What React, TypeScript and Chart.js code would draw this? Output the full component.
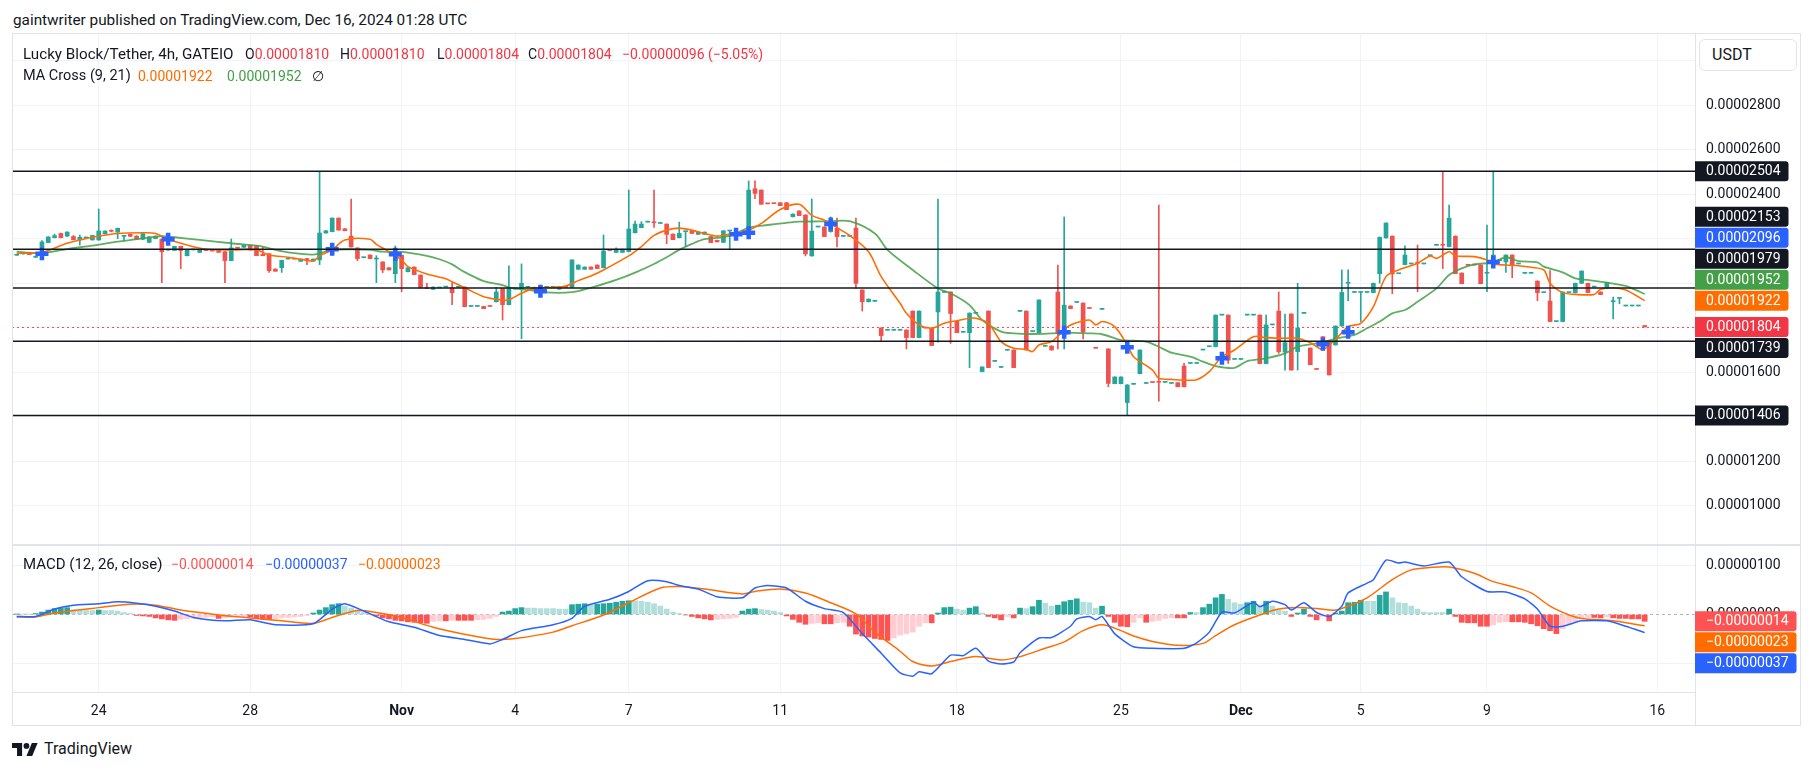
import React, { useEffect, useRef } from 'react';
import { Chart, registerables } from 'chart.js';

Chart.register(...registerables);

// Prices and indicator values are stored in units of 1e-8 USDT (2400 = 0.00002400)
const UNIT = 1e8;

const TICK_IDX = [13, 37, 61, 79, 97, 121, 149, 175, 194, 213, 233, 260];
const TICK_LABELS = ['24', '28', 'Nov', '4', '7', '11', '18', '25', 'Dec', '5', '9', '16'];
const MONTH_LABELS = ['Nov', 'Dec'];
const PRICE_TICKS = [1000, 1200, 1400, 1600, 1800, 2000, 2200, 2400, 2600, 2800, 3000];
const MACD_TICKS = [-100, 0, 100];

// [open, high, low, close] per 4h bar
const CANDLES: number[][] = [
  [2126, 2129, 2126, 2128], [2132, 2134, 2131, 2133], [2139, 2140, 2128, 2129], [2117, 2118, 2116, 2117],
  [2162, 2192, 2160, 2186], [2183, 2210, 2182, 2208], [2205, 2221, 2204, 2214], [2224, 2226, 2204, 2205],
  [2212, 2232, 2210, 2230], [2210, 2215, 2195, 2196], [2195, 2217, 2172, 2207], [2204, 2205, 2203, 2205],
  [2195, 2215, 2194, 2215], [2195, 2334, 2193, 2235], [2223, 2236, 2222, 2235], [2235, 2240, 2232, 2234],
  [2230, 2248, 2201, 2247], [2211, 2212, 2190, 2212], [2220, 2222, 2210, 2211], [2212, 2214, 2197, 2198],
  [2198, 2225, 2196, 2223], [2184, 2210, 2183, 2208], [2201, 2213, 2200, 2212], [2198, 2199, 2003, 2142],
  [2149, 2150, 2148, 2150], [2148, 2167, 2147, 2166], [2166, 2167, 2066, 2147], [2124, 2152, 2123, 2151],
  [2150, 2151, 2150, 2151], [2139, 2150, 2138, 2150], [2148, 2148, 2147, 2147], [2150, 2151, 2145, 2145],
  [2150, 2151, 2139, 2139], [2142, 2143, 2003, 2102], [2102, 2199, 2101, 2159], [2159, 2159, 2158, 2158],
  [2162, 2172, 2161, 2171], [2171, 2172, 2150, 2150], [2168, 2169, 2124, 2124], [2130, 2162, 2124, 2124],
  [2133, 2134, 2049, 2057], [2064, 2065, 2054, 2054], [2070, 2104, 2049, 2103], [2109, 2110, 2109, 2110],
  [2110, 2110, 2109, 2109], [2099, 2109, 2098, 2109], [2111, 2112, 2084, 2103], [2100, 2109, 2100, 2109],
  [2105, 2503, 2084, 2226], [2226, 2237, 2225, 2236], [2232, 2294, 2231, 2293], [2293, 2294, 2239, 2239],
  [2245, 2246, 2236, 2236], [2212, 2379, 2163, 2163], [2159, 2160, 2102, 2111], [2115, 2116, 2115, 2116],
  [2127, 2128, 2111, 2111], [2109, 2124, 2003, 2110], [2096, 2097, 2048, 2060], [2070, 2071, 2060, 2060],
  [2043, 2168, 2003, 2120], [2126, 2127, 1962, 2066], [2052, 2071, 2051, 2070], [2073, 2074, 2039, 2039],
  [2037, 2038, 1979, 1979], [1977, 2000, 1976, 1976], [1973, 1984, 1972, 1983], [1979, 1980, 1979, 1980],
  [1983, 1984, 1983, 1984], [1980, 2003, 1904, 1958], [1982, 1983, 1982, 1983], [1983, 1984, 1895, 1895],
  [1896, 1897, 1896, 1897], [1896, 1897, 1896, 1897], [1896, 1897, 1886, 1886], [1897, 1897, 1896, 1896],
  [1917, 1982, 1916, 1961], [1977, 1978, 1835, 1904], [1904, 2078, 1903, 1982], [1974, 1975, 1974, 1975],
  [1977, 2087, 1751, 2000], [1982, 1983, 1982, 1983], [1973, 1983, 1972, 1982], [1982, 1983, 1982, 1983],
  [1982, 1983, 1982, 1983], [1982, 1983, 1982, 1983], [1974, 1986, 1973, 1985], [1983, 1983, 1982, 1982],
  [1982, 2106, 1981, 2105], [2063, 2083, 2062, 2082], [2063, 2074, 2062, 2073], [2073, 2074, 2063, 2063],
  [2082, 2083, 2066, 2066], [2070, 2217, 2069, 2145], [2148, 2148, 2147, 2147], [2139, 2159, 2138, 2153],
  [2139, 2154, 2138, 2153], [2142, 2419, 2141, 2244], [2227, 2280, 2226, 2266], [2250, 2277, 2249, 2266],
  [2275, 2276, 2275, 2276], [2273, 2419, 2251, 2272], [2269, 2270, 2269, 2270], [2266, 2267, 2178, 2220],
  [2221, 2222, 2196, 2196], [2205, 2275, 2204, 2224], [2232, 2233, 2168, 2233], [2236, 2237, 2224, 2224],
  [2220, 2231, 2219, 2230], [2220, 2231, 2219, 2230], [2210, 2211, 2183, 2183], [2193, 2194, 2186, 2186],
  [2184, 2237, 2183, 2236], [2235, 2236, 2151, 2236], [2224, 2225, 2224, 2225], [2230, 2231, 2220, 2220],
  [2224, 2460, 2223, 2419], [2425, 2460, 2380, 2404], [2419, 2420, 2355, 2355], [2358, 2358, 2357, 2357],
  [2359, 2359, 2358, 2358], [2362, 2363, 2349, 2349], [2362, 2363, 2331, 2331], [2299, 2312, 2298, 2311],
  [2325, 2326, 2304, 2304], [2307, 2308, 2123, 2132], [2123, 2379, 2122, 2235], [2253, 2254, 2253, 2254],
  [2253, 2254, 2210, 2210], [2232, 2298, 2230, 2275], [2248, 2293, 2163, 2210], [2211, 2212, 2211, 2212],
  [2211, 2212, 2211, 2212], [2248, 2293, 1977, 2000], [1970, 1971, 1875, 1917], [1917, 1930, 1916, 1929],
  [1919, 1920, 1919, 1920], [1799, 1800, 1741, 1765], [1789, 1790, 1789, 1790], [1789, 1790, 1789, 1790],
  [1789, 1790, 1789, 1790], [1790, 1791, 1705, 1756], [1875, 1876, 1755, 1756], [1756, 1876, 1755, 1875],
  [1800, 1800, 1799, 1799], [1799, 1800, 1720, 1720], [1871, 2379, 1735, 1961], [1959, 1960, 1959, 1960],
  [1961, 1962, 1730, 1864], [1829, 1830, 1778, 1778], [1780, 1781, 1780, 1781], [1778, 1867, 1621, 1866],
  [1865, 1866, 1865, 1866], [1603, 1625, 1602, 1624], [1875, 1876, 1621, 1621], [1649, 1650, 1649, 1650],
  [1622, 1623, 1622, 1623], [1699, 1700, 1699, 1700], [1700, 1701, 1621, 1621], [1874, 1875, 1874, 1875],
  [1875, 1876, 1700, 1700], [1783, 1784, 1783, 1784], [1778, 1926, 1777, 1925], [1717, 1718, 1717, 1718],
  [1718, 1719, 1700, 1700], [1961, 2082, 1705, 1775], [1768, 2298, 1705, 1902], [1898, 1899, 1886, 1886],
  [1914, 1915, 1914, 1915], [1911, 1912, 1750, 1781], [1888, 1888, 1887, 1887], [1709, 1709, 1708, 1708],
  [1883, 1884, 1883, 1884], [1705, 1706, 1535, 1550], [1549, 1580, 1548, 1579], [1549, 1580, 1548, 1579],
  [1464, 1545, 1406, 1543], [1546, 1547, 1546, 1547], [1594, 1701, 1593, 1700], [1550, 1551, 1550, 1551],
  [1555, 1555, 1554, 1554], [1556, 2352, 1470, 1555], [1555, 1556, 1555, 1556], [1550, 1551, 1550, 1551],
  [1553, 1554, 1535, 1535], [1628, 1640, 1534, 1535], [1640, 1641, 1640, 1641], [1640, 1641, 1640, 1641],
  [1700, 1701, 1700, 1701], [1715, 1716, 1715, 1716], [1715, 1858, 1714, 1857], [1857, 1858, 1857, 1858],
  [1857, 1858, 1640, 1655], [1658, 1659, 1658, 1659], [1658, 1659, 1658, 1659], [1857, 1858, 1857, 1858],
  [1857, 1858, 1857, 1858], [1857, 1858, 1638, 1639], [1639, 1857, 1638, 1813], [1813, 1814, 1813, 1814],
  [1875, 1961, 1685, 1693], [1691, 1862, 1610, 1733], [1862, 1863, 1610, 1610], [1693, 2000, 1610, 1799],
  [1865, 1866, 1865, 1866], [1709, 1710, 1634, 1634], [1614, 1614, 1613, 1613], [1760, 1761, 1753, 1753],
  [1741, 1742, 1588, 1588], [1723, 1809, 1722, 1808], [1808, 2060, 1807, 1959], [2000, 2060, 1922, 2001],
  [1959, 1960, 1959, 1960], [1959, 1960, 1828, 1960], [1959, 1960, 1959, 1960], [1958, 2001, 1957, 2000],
  [2043, 2208, 2000, 2207], [2204, 2272, 2203, 2271], [2212, 2213, 1953, 2042], [2043, 2044, 2043, 2044],
  [2084, 2168, 2083, 2127], [2087, 2088, 2087, 2088], [2091, 2172, 1962, 2090], [2087, 2088, 2087, 2088],
  [2124, 2125, 2124, 2125], [2171, 2172, 2171, 2172], [2172, 2503, 2066, 2171], [2165, 2352, 2164, 2293],
  [2212, 2213, 2043, 2043], [2046, 2047, 1998, 1998], [2082, 2082, 2081, 2081], [2083, 2083, 2082, 2082],
  [2082, 2083, 1998, 1998], [2045, 2262, 1962, 2046], [2082, 2503, 2081, 2127], [2102, 2103, 2102, 2103],
  [2096, 2128, 2049, 2127], [2127, 2128, 2025, 2082], [2087, 2088, 2087, 2088], [2045, 2046, 2045, 2046],
  [2045, 2046, 2045, 2046], [2010, 2011, 1922, 1958], [1958, 1959, 1958, 1959], [1920, 2057, 1828, 1828],
  [1828, 1829, 1828, 1829], [1828, 1962, 1827, 1961], [1958, 1959, 1958, 1959], [1958, 2001, 1957, 2000],
  [2000, 2056, 1999, 2055], [2000, 2001, 1958, 1958], [1983, 1984, 1983, 1984], [1961, 1962, 1949, 1949],
  [1980, 2005, 1979, 2004], [1917, 1938, 1840, 1918], [1932, 1933, 1908, 1933], [1898, 1899, 1898, 1899],
  [1898, 1899, 1898, 1899], [1898, 1899, 1898, 1899], [1810, 1810, 1804, 1804],
];

// [bar index, value] read along the MA(9) line
const MA9: number[][] = [
  [0, 2135], [4, 2139], [8, 2180], [12, 2207], [16, 2224], [20, 2227], [22, 2224], [24, 2198], [27, 2172],
  [30, 2153], [34, 2150], [38, 2150], [40, 2127], [43, 2117], [45, 2108], [47, 2100], [48, 2123], [50, 2150],
  [52, 2195], [56, 2198], [57, 2175], [59, 2142], [61, 2105], [62, 2075], [65, 2042], [68, 2020], [69, 2007],
  [71, 1980], [74, 1940], [77, 1925], [78, 1926], [80, 1955], [82, 1977], [85, 1982], [87, 1988], [89, 2012],
  [91, 2033], [93, 2060], [97, 2123], [99, 2165], [101, 2215], [103, 2239], [105, 2248], [107, 2239],
  [109, 2224], [111, 2212], [113, 2221], [116, 2239], [118, 2269], [121, 2332], [124, 2355], [126, 2305],
  [128, 2284], [130, 2250], [132, 2215], [135, 2142], [137, 2030], [140, 1910], [141, 1865], [143, 1813],
  [145, 1798], [147, 1820], [149, 1832], [151, 1843], [152, 1843], [154, 1820], [156, 1738], [158, 1708],
  [160, 1703], [161, 1693], [162, 1723], [164, 1738], [166, 1790], [167, 1813], [170, 1835], [171, 1813],
  [172, 1828], [174, 1805], [176, 1723], [177, 1670], [180, 1610], [181, 1573], [183, 1568], [185, 1565],
  [187, 1567], [189, 1603], [191, 1670], [193, 1700], [196, 1760], [198, 1756], [201, 1753], [203, 1753],
  [205, 1733], [207, 1703], [209, 1748], [211, 1805], [213, 1820], [215, 1895], [217, 2030], [219, 2060],
  [222, 2090], [224, 2123], [225, 2112], [227, 2142], [228, 2123], [231, 2120], [233, 2105], [234, 2087],
  [236, 2082], [238, 2079], [240, 2072], [242, 2060], [243, 2000], [245, 1958], [247, 1950], [250, 1950],
  [251, 1973], [253, 1980], [255, 1970], [258, 1922],
];

// [bar index, value] read along the MA(21) line
const MA21: number[][] = [
  [0, 2142], [4, 2135], [8, 2154], [12, 2169], [16, 2187], [20, 2202], [23, 2212], [25, 2207], [29, 2195],
  [34, 2180], [39, 2165], [41, 2150], [43, 2139], [47, 2129], [50, 2150], [53, 2153], [56, 2150], [58, 2142],
  [61, 2141], [65, 2123], [67, 2108], [69, 2085], [71, 2050], [74, 2010], [77, 1992], [78, 1982], [81, 1970],
  [84, 1959], [87, 1958], [89, 1965], [92, 1988], [95, 2015], [98, 2048], [101, 2087], [103, 2117],
  [105, 2150], [107, 2177], [109, 2198], [112, 2207], [114, 2224], [116, 2250], [119, 2262], [122, 2272],
  [124, 2277], [127, 2278], [129, 2279], [132, 2279], [136, 2224], [138, 2150], [142, 2060], [146, 1977],
  [148, 1955], [151, 1902], [153, 1835], [156, 1783], [158, 1775], [161, 1772], [164, 1775], [166, 1778],
  [170, 1775], [172, 1771], [175, 1745], [177, 1742], [179, 1738], [181, 1715], [183, 1688], [186, 1670],
  [188, 1648], [190, 1628], [193, 1620], [195, 1650], [198, 1663], [201, 1685], [203, 1715], [206, 1730],
  [210, 1757], [212, 1768], [214, 1798], [216, 1828], [218, 1865], [220, 1880], [222, 1917], [225, 1977],
  [227, 2037], [229, 2067], [231, 2085], [234, 2094], [236, 2117], [238, 2100], [241, 2094], [242, 2075],
  [245, 2049], [247, 2022], [249, 2015], [252, 2003], [255, 1988], [256, 1977], [258, 1952],
];

// [bar index, price] of the MA cross markers
const CROSSES: number[][] = [
  [4, 2133], [24, 2198], [50, 2153], [60, 2130], [83, 1964], [114, 2220], [116, 2227], [129, 2266],
  [166, 1780], [176, 1712], [191, 1663], [207, 1726], [211, 1780], [234, 2096],
];

const LEVELS = [2504, 2153, 1979, 1739, 1406];
const LAST_PRICE = 1804;
const PRICE_TAG_VALUES = [2504, 2153, 2096, 1979, 1952, 1922, 1804, 1739, 1406];
const PRICE_TAG_COLORS = ['#131722', '#131722', '#2962ff', '#131722', '#43a047', '#ff6d00', '#f23645', '#131722', '#131722'];

// [bar index, value]
const MACD_LINE: number[][] = [
  [0, -4], [3, -4], [6, 11], [9, 19], [13, 22], [16, 26], [19, 23], [22, 17], [25, 7], [28, -6], [33, -13],
  [37, -11], [41, -21], [47, -19], [50, 11], [52, 22], [55, 7], [59, -15], [63, -26], [67, -43], [71, -51],
  [75, -60], [77, -51], [80, -33], [85, -21], [88, -8], [90, 17], [94, 31], [97, 47], [100, 69], [103, 67],
  [105, 59], [108, 52], [111, 36], [115, 34], [117, 54], [119, 59], [122, 54], [125, 27], [128, 12], [131, 4],
  [134, -39], [137, -79], [140, -119], [142, -126], [143, -117], [145, -121], [148, -83], [150, -84],
  [152, -69], [154, -95], [156, -101], [158, -97], [159, -78], [162, -48], [164, -47], [167, -24], [168, -9],
  [170, -4], [171, -11], [172, -4], [174, -39], [177, -66], [180, -69], [185, -69], [187, -58], [189, -36],
  [191, 5], [193, 3], [196, 25], [197, 16], [199, 27], [201, 20], [202, 9], [204, 24], [206, 4], [208, -4],
  [210, 17], [211, 44], [214, 64], [215, 71], [217, 111], [219, 105], [220, 107], [223, 99], [227, 107],
  [229, 77], [233, 47], [236, 46], [239, 32], [241, 11], [243, -24], [245, -24], [248, -13], [252, -13],
  [255, -24], [258, -37],
];

// [bar index, value]
const SIGNAL_LINE: number[][] = [
  [0, -5], [3, -5], [6, 3], [13, 14], [18, 21], [22, 19], [26, 9], [32, -1], [37, -7], [42, -13], [47, -18],
  [50, -6], [54, 8], [57, 4], [61, -6], [66, -26], [72, -43], [76, -51], [79, -49], [85, -36], [88, -23],
  [93, -1], [97, 24], [102, 54], [105, 57], [109, 52], [115, 42], [117, 47], [121, 52], [125, 44], [129, 24],
  [133, 1], [136, -36], [140, -75], [142, -96], [145, -105], [148, -96], [152, -86], [156, -93], [159, -86],
  [163, -69], [166, -56], [169, -33], [172, -21], [175, -33], [177, -44], [180, -55], [184, -63], [188, -59],
  [190, -43], [193, -21], [197, -1], [200, 11], [203, 14], [206, 12], [209, 9], [211, 17], [214, 34],
  [218, 71], [221, 91], [224, 96], [227, 97], [231, 84], [234, 67], [237, 57], [240, 44], [243, 17],
  [246, -1], [248, -8], [253, -13], [258, -23],
];

// histogram value per bar
const HIST: number[] = [
  0.5, 0.5, 0.3, 2, 5, 9, 12, 13, 14, 10, 9, 8, 8, 9, 8, 8, 7, 4, 2,
  -2, -3, -4, -7, -9, -11, -12, -10, -9, -8, -7, -6, -5, -8, -7, -5, -4, -3, -5, -7, -9, -10, -9, -7, -6, -5, -4, -2,
  3, 9, 14, 20, 22, 17, 13, 9, 4, 1,
  -3, -7, -9, -12, -13, -15, -16, -17, -18, -14, -13, -13, -12, -12, -12, -12, -11, -10, -8, -4,
  5, 7, 12, 14, 13, 13, 12, 12, 12, 11, 11, 20, 21, 22, 19, 21, 22, 23, 25, 27, 28, 28, 27, 25, 22, 17, 11, 5, 2,
  -1, -4, -7, -9, -11, -10, -9, -8, -6,
  7, 11, 12, 10, 9, 7, 4,
  -3, -10, -16, -20, -18, -17, -19, -19, -17, -16, -24, -40, -44, -46, -49, -51, -53, -48,
  -42, -39, -36, -24, -17, -17, 3, 14, 15, 11, 9, 13, 16, 3, -4, -7, -11, -4, -7, 13,
  12, 16, 29, 23, 17, 19, 26, 29, 32, 25, 24, 13, 17, -4, -16, -24, -25, -16, -7, -16,
  -14, -12, -8, -7, -7, -7, 4, 4, 14, 21, 34, 41, 31, 24, 21, 24, 27, 19, 27, 17,
  9, 7, -4, 3, 11, -4, -11, -4, -13, 3, 7, 24, 25, 29, 27, 27, 39, 46, 34, 24,
  23, 17, 11, 5, 4, 4, 4, 11, -4, -16, -17, -17, -24, -24, -21, -16, -15, -15, -15, -16,
  -19, -23, -29, -33, -39, -29, -21, -15, -9, -6, -6, -7, -5, -7, -8, -8, -9, -9, -14,
];

const MACD_TAG_VALUES = [-14, -23, -37];
const MACD_TAG_COLORS = ['#ff5252', '#ff6d00', '#2962ff'];

// ---------- styling / geometry ----------
const FONT = 'Roboto, "Noto Sans", "DejaVu Sans", sans-serif';
const TEXT = '#131722';
const GRID = '#f0f3fa';
const EDGE = '#e0e3eb';
const UP = '#26a69a';
const DOWN = '#ef5350';
const X_MIN = -0.745;
const X_MAX = 265.97;
const P_MIN = 823.8;
const P_MAX = 3120.4;
const M_MIN = -158.2;
const M_MAX = 141.8;

const fmt = (v: number) => (v < 0 ? '\u2212' : '') + (Math.abs(v) / UNIT).toFixed(8);
const pts = (arr: number[][]) => arr.map(([x, y]) => ({ x, y }));
const noPad = (s: any) => {
  s.paddingTop = 0;
  s.paddingBottom = 0;
  s.paddingLeft = 0;
  s.paddingRight = 0;
};

function drawTags(chart: any, values: number[], colors: string[], anchorValue: number) {
  const { ctx, chartArea: a } = chart;
  const y = chart.scales.y;
  const items = values.map((v, i) => ({ v, c: colors[i] })).sort((p, q) => q.v - p.v);
  const nat = items.map((it) => y.getPixelForValue(it.v));
  const pos = nat.slice();
  const anchor = Math.max(0, items.findIndex((it) => it.v === anchorValue));
  const H = 21;
  for (let j = anchor - 1; j >= 0; j--) pos[j] = Math.min(nat[j], pos[j + 1] - H);
  for (let j = anchor + 1; j < items.length; j++) pos[j] = Math.max(nat[j], pos[j - 1] + H);
  ctx.save();
  ctx.font = `14px ${FONT}`;
  ctx.textBaseline = 'middle';
  ctx.textAlign = 'left';
  items.forEach((it, j) => {
    const t = fmt(it.v);
    const w = ctx.measureText(t).width + 19;
    ctx.fillStyle = it.c;
    ctx.beginPath();
    if (ctx.roundRect) ctx.roundRect(a.right, pos[j] - 10, w, 20, [0, 3, 3, 0]);
    else ctx.rect(a.right, pos[j] - 10, w, 20);
    ctx.fill();
    ctx.fillStyle = '#ffffff';
    ctx.fillText(t, a.right + 11, pos[j] + 0.5);
  });
  ctx.restore();
}

const mainPlugin = {
  id: 'mainDecor',
  beforeDatasetsDraw(chart: any) {
    const { ctx, chartArea: a } = chart;
    const py = Math.round(chart.scales.y.getPixelForValue(LAST_PRICE)) + 0.5;
    ctx.save();
    ctx.strokeStyle = DOWN;
    ctx.lineWidth = 1;
    ctx.setLineDash([2, 3]);
    ctx.beginPath();
    ctx.moveTo(a.left, py);
    ctx.lineTo(a.right, py);
    ctx.stroke();
    ctx.restore();
  },
  afterDatasetsDraw(chart: any) {
    const { ctx, chartArea: a } = chart;
    ctx.save();
    ctx.strokeStyle = TEXT;
    ctx.lineWidth = 1.5;
    LEVELS.forEach((v) => {
      const py = chart.scales.y.getPixelForValue(v);
      ctx.beginPath();
      ctx.moveTo(a.left, py);
      ctx.lineTo(a.right, py);
      ctx.stroke();
    });
    ctx.restore();
  },
  afterDraw(chart: any) {
    drawTags(chart, PRICE_TAG_VALUES, PRICE_TAG_COLORS, LAST_PRICE);
  },
};

const macdPlugin = {
  id: 'macdDecor',
  beforeDatasetsDraw(chart: any) {
    const { ctx, chartArea: a } = chart;
    const py = Math.round(chart.scales.y.getPixelForValue(0)) + 0.5;
    ctx.save();
    ctx.strokeStyle = 'rgba(120,123,134,0.55)';
    ctx.lineWidth = 1;
    ctx.setLineDash([3, 3]);
    ctx.beginPath();
    ctx.moveTo(a.left, py);
    ctx.lineTo(a.right, py);
    ctx.stroke();
    ctx.restore();
  },
  afterDraw(chart: any) {
    drawTags(chart, MACD_TAG_VALUES, MACD_TAG_COLORS, MACD_TAG_VALUES[0]);
  },
};

const Txt = ({ x, y, c = TEXT, s = 14, w = 400, children }: any) => (
  <div
    style={{
      position: 'absolute', left: x, top: y - 10, height: 20, lineHeight: '20px', fontSize: s,
      fontWeight: w, color: c, whiteSpace: 'nowrap',
    }}
  >
    {children}
  </div>
);

export default function App() {
  const mainRef = useRef<HTMLCanvasElement>(null);
  const macdRef = useRef<HTMLCanvasElement>(null);

  useEffect(() => {
    Chart.defaults.font.family = FONT;
    const candleColors = CANDLES.map(([o, , , c]) => (c >= o ? UP : DOWN));
    const histColors = HIST.map((v, i) => {
      const p = i > 0 ? HIST[i - 1] : 0;
      if (v >= 0) return v > p ? '#26a69a' : '#b2dfdb';
      return v > p ? '#ffcdd2' : '#ff5252';
    });

    const xBase = {
      type: 'linear' as const,
      min: X_MIN,
      max: X_MAX,
      offset: false,
      bounds: 'data' as const,
      afterBuildTicks: (s: any) => { s.ticks = TICK_IDX.map((v) => ({ value: v })); },
    };

    const main = new Chart(mainRef.current as HTMLCanvasElement, {
      type: 'bar',
      data: {
        datasets: [
          {
            type: 'line', label: 'cross', data: pts(CROSSES), showLine: false, pointStyle: 'cross',
            pointRadius: 6.5, pointBorderWidth: 4.5, pointBorderColor: '#2962ff', borderColor: '#2962ff', order: 0,
          } as any,
          {
            type: 'line', label: 'MA9', data: pts(MA9), borderColor: '#ff6d00', borderWidth: 1.6,
            pointRadius: 0, tension: 0.3, order: 1,
          } as any,
          {
            type: 'line', label: 'MA21', data: pts(MA21), borderColor: 'rgba(67,160,71,0.85)', borderWidth: 1.8,
            pointRadius: 0, tension: 0.3, order: 2,
          } as any,
          {
            type: 'bar', label: 'body', data: CANDLES.map((c, i) => ({ x: i, y: [c[0], c[3]] })),
            backgroundColor: candleColors, barThickness: 4, minBarLength: 1, grouped: false, order: 5,
          } as any,
          {
            type: 'bar', label: 'wick', data: CANDLES.map((c, i) => ({ x: i, y: [c[2], c[1]] })),
            backgroundColor: candleColors, barThickness: 1, grouped: false, order: 6,
          } as any,
        ],
      },
      options: {
        animation: false,
        responsive: false,
        maintainAspectRatio: false,
        layout: { padding: 0, autoPadding: false },
        plugins: { legend: { display: false }, tooltip: { enabled: false } },
        scales: {
          x: {
            ...xBase,
            afterFit: (s: any) => { s.height = 0; noPad(s); },
            grid: { color: GRID, drawTicks: false, offset: false },
            border: { display: false },
            ticks: { display: false },
          },
          y: {
            type: 'linear',
            position: 'right',
            min: P_MIN,
            max: P_MAX,
            bounds: 'data',
            afterBuildTicks: (s: any) => { s.ticks = PRICE_TICKS.map((v) => ({ value: v })); },
            afterFit: (s: any) => { s.width = 105; noPad(s); },
            grid: { color: GRID, drawTicks: false },
            border: { display: true, color: EDGE },
            ticks: {
              padding: 11, color: TEXT, font: { size: 14, family: FONT }, autoSkip: false,
              callback: (v: any) => fmt(Number(v)),
            },
          },
        },
      } as any,
      plugins: [mainPlugin],
    });

    const macd = new Chart(macdRef.current as HTMLCanvasElement, {
      type: 'bar',
      data: {
        datasets: [
          {
            type: 'line', label: 'MACD', data: pts(MACD_LINE), borderColor: '#2962ff', borderWidth: 1.5,
            pointRadius: 0, tension: 0.2, order: 1,
          } as any,
          {
            type: 'line', label: 'Signal', data: pts(SIGNAL_LINE), borderColor: '#ff6d00', borderWidth: 1.5,
            pointRadius: 0, tension: 0.3, order: 2,
          } as any,
          {
            type: 'bar', label: 'Histogram', data: HIST.map((v, i) => ({ x: i, y: v })),
            backgroundColor: histColors, barThickness: 5, grouped: false, order: 3,
          } as any,
        ],
      },
      options: {
        animation: false,
        responsive: false,
        maintainAspectRatio: false,
        layout: { padding: 0, autoPadding: false },
        plugins: { legend: { display: false }, tooltip: { enabled: false } },
        scales: {
          x: {
            ...xBase,
            afterFit: (s: any) => { s.height = 34; noPad(s); },
            grid: { color: GRID, drawTicks: false, offset: false },
            border: { display: true, color: EDGE },
            ticks: {
              autoSkip: false, maxRotation: 0, padding: 11, color: TEXT,
              font: (c: any) => ({
                family: FONT, size: 14,
                weight: MONTH_LABELS.includes(TICK_LABELS[c.index]) ? 'bold' : 'normal',
              }),
              callback: (_v: any, i: number) => TICK_LABELS[i],
            },
          },
          y: {
            type: 'linear',
            position: 'right',
            min: M_MIN,
            max: M_MAX,
            bounds: 'data',
            afterBuildTicks: (s: any) => { s.ticks = MACD_TICKS.map((v) => ({ value: v })); },
            afterFit: (s: any) => { s.width = 105; noPad(s); },
            grid: {
              color: (c: any) => (c.tick && c.tick.value === 0 ? 'rgba(0,0,0,0)' : GRID),
              drawTicks: false,
            },
            border: { display: true, color: EDGE },
            ticks: {
              padding: 11, color: TEXT, font: { size: 14, family: FONT }, autoSkip: false,
              callback: (v: any) => fmt(Number(v)),
            },
          },
        },
      } as any,
      plugins: [macdPlugin],
    });

    return () => {
      main.destroy();
      macd.destroy();
    };
  }, []);

  const red = '#f23645';
  return (
    <div
      style={{
        position: 'absolute', left: 0, top: 0, width: 1814, height: 771, background: '#ffffff',
        fontFamily: FONT, color: TEXT, overflow: 'hidden',
      }}
    >
      <Txt x={13} y={20} s={15.3}>gaintwriter published on TradingView.com, Dec 16, 2024 01:28 UTC</Txt>

      <canvas ref={mainRef} width={1788} height={511}
        style={{ position: 'absolute', left: 12, top: 34, width: 1788, height: 511 }} />
      <canvas ref={macdRef} width={1788} height={181}
        style={{ position: 'absolute', left: 12, top: 545, width: 1788, height: 181 }} />

      {/* frame and separators */}
      <div style={{ position: 'absolute', left: 12, top: 33, width: 1789, height: 693, border: `1px solid ${EDGE}`, boxSizing: 'border-box', pointerEvents: 'none' }} />
      <div style={{ position: 'absolute', left: 12, top: 544, width: 1789, height: 2, background: EDGE }} />
      <div style={{ position: 'absolute', left: 1695, top: 692, width: 1, height: 34, background: EDGE }} />

      {/* main legend */}
      <Txt x={23} y={54} s={15.2}>Lucky Block/Tether, 4h, GATEIO</Txt>
      <Txt x={245} y={54}>O<span style={{ color: red }}>0.00001810</span></Txt>
      <Txt x={340} y={54}>H<span style={{ color: red }}>0.00001810</span></Txt>
      <Txt x={437} y={54}>L<span style={{ color: red }}>0.00001804</span></Txt>
      <Txt x={528} y={54}>C<span style={{ color: red }}>0.00001804</span></Txt>
      <Txt x={622} y={54} c={red}>{'\u22120.00000096 (\u22125.05%)'}</Txt>
      <Txt x={23} y={76} s={14.5}>MA Cross (9, 21)</Txt>
      <Txt x={138} y={76} c="#ff6d00">0.00001922</Txt>
      <Txt x={227} y={76} c="#43a047">0.00001952</Txt>
      <Txt x={312} y={76}>{'\u2205'}</Txt>

      {/* MACD legend */}
      <Txt x={23} y={564} s={15}>MACD (12, 26, close)</Txt>
      <Txt x={171} y={564} c="#ff5252">{'\u22120.00000014'}</Txt>
      <Txt x={265} y={564} c="#2962ff">{'\u22120.00000037'}</Txt>
      <Txt x={358} y={564} c="#ff6d00">{'\u22120.00000023'}</Txt>

      {/* currency box */}
      <div
        style={{
          position: 'absolute', left: 1699, top: 39, width: 98, height: 32, border: `1px solid ${EDGE}`,
          borderRadius: 6, boxSizing: 'border-box', background: '#fff', fontSize: 16, lineHeight: '30px',
          paddingLeft: 12, color: TEXT,
        }}
      >
        USDT
      </div>

      {/* footer */}
      <svg style={{ position: 'absolute', left: 12, top: 740 }} width={26} height={19} viewBox="0 0 36 26">
        <path d="M14 22H7V11H0V4h14v18z" fill={TEXT} />
        <path d="M28 22h-8l7.5-18h8L28 22z" fill={TEXT} />
        <circle cx="20" cy="8" r="4" fill={TEXT} />
      </svg>
      <Txt x={44} y={749} s={16}>TradingView</Txt>
    </div>
  );
}
